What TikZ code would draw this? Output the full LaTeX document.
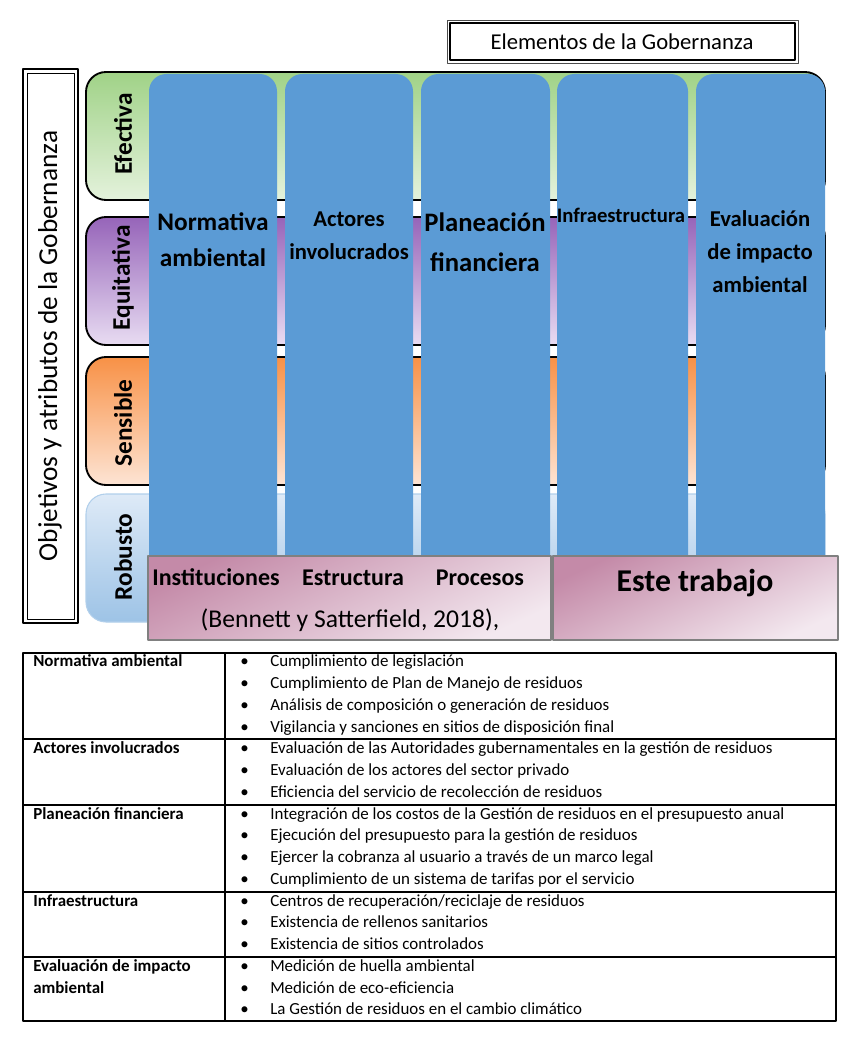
\documentclass[tikz,border=0pt]{standalone}
\usepackage{fontspec}
\setmainfont{Carlito}
\definecolor{colblue}{RGB}{91,155,213}
\definecolor{greendk}{RGB}{160,210,135}
\definecolor{greenlt}{RGB}{228,242,220}
\definecolor{purpledk}{RGB}{150,100,185}
\definecolor{purplelt}{RGB}{232,220,242}
\definecolor{orangedk}{RGB}{248,145,70}
\definecolor{orangelt}{RGB}{253,228,212}
\definecolor{bluelt}{RGB}{222,234,247}
\definecolor{bluedk}{RGB}{157,195,230}
\definecolor{pinkdk}{RGB}{196,138,168}
\definecolor{pinklt}{RGB}{243,232,239}

\begin{document}
\begin{tikzpicture}[x=0.75pt, y=-0.75pt, line join=round,
  band/.style={rounded corners=15pt, line width=1.4pt},
  colbox/.style={fill=colblue, rounded corners=13pt},
  pinkbox/.style={draw=black!50, line width=1.3pt, top color=pinkdk, bottom color=pinklt, shading angle=25},
  pinkword/.style={anchor=base, font=\bfseries\fontsize{18}{21}\selectfont},
  bandlabel/.style={rotate=90, font=\bfseries\fontsize{19}{22}\selectfont},
  item/.style={anchor=west, inner sep=0pt, text height=1.6ex, text depth=.4ex, font=\fontsize{12.7}{14}\selectfont},
  tlabel/.style={item, font=\bfseries\fontsize{12.7}{14}\selectfont}]
\useasboundingbox (0,0) rectangle (866,1048);

% titulo superior
\draw[line width=0.6pt, black!70] (447,20) rectangle (798,63);
\draw[line width=1.6pt] (450,23) rectangle (795,60);
\node[font=\fontsize{17}{20}\selectfont] (elementos) at (622,42) {Elementos de la Gobernanza};

% titulo lateral
\draw[line width=1.6pt] (23,69) rectangle (78,623);
\draw[line width=0.6pt] (27,73) rectangle (74,619);
\node[rotate=90, font=\fontsize{20.5}{24}\selectfont] (objetivos) at (50,346) {Objetivos y atributos de la Gobernanza};

% bandas de atributos
\draw[band, top color=greendk, bottom color=greenlt] (86,72) rectangle (825,200);
\draw[band, top color=purpledk, bottom color=purplelt] (86,217) rectangle (825,345);
\draw[band, top color=orangedk, bottom color=orangelt] (86,357) rectangle (825,485);
\draw[band, draw=bluedk!80, line width=0.8pt, top color=bluelt, bottom color=bluedk] (86,494) rectangle (825,622);
\node[bandlabel] (efectiva) at (123,134) {Efectiva};
\node[bandlabel] (equitativa) at (123,278) {Equitativa};
\node[bandlabel] (sensible) at (123,423) {Sensible};
\node[bandlabel] (robusto) at (123,557) {Robusto};

% columnas de elementos
\fill[colbox] (149,74) rectangle (277,590);
\fill[colbox] (285,74) rectangle (413,590);
\fill[colbox] (421,74) rectangle (550,590);
\fill[colbox] (557,74) rectangle (688,590);
\fill[colbox] (696,74) rectangle (825,590);
\node[align=center, font=\bfseries\fontsize{19}{27}\selectfont] (normativa) at (213,240) {Normativa\\ambiental};
\node[align=center, font=\bfseries\fontsize{17}{24.75}\selectfont] (actores) at (349,236) {Actores\\involucrados};
\node[align=center, font=\bfseries\fontsize{20}{30}\selectfont] (planeacion) at (485,242) {Planeación\\financiera};
\node[font=\bfseries\fontsize{15.5}{18}\selectfont] (infra) at (621,215) {Infraestructura};
\node[align=center, font=\bfseries\fontsize{17}{24.75}\selectfont] (evaluacion) at (760,252) {Evaluación\\de impacto\\ambiental};

% cajas inferiores
\draw[pinkbox] (148,556) rectangle (551,640);
\draw[pinkbox] (553,556) rectangle (838,640);
\node[pinkword] (instituciones) at (216,585) {Instituciones};
\node[pinkword] (estructura) at (353,585) {Estructura};
\node[pinkword] (procesos) at (480,585) {Procesos};
\node[font=\fontsize{19.2}{22}\selectfont] (bennett) at (350,620) {(Bennett y Satterfield, 2018),};
\node[font=\bfseries\fontsize{23.8}{27}\selectfont] (trabajo) at (695,583) {Este trabajo};

% tabla
\draw[line width=1pt] (23,653) rectangle (836,1021);
\draw[line width=0.8pt] (225,653) -- (225,1021);
\foreach \y in {739,805,892,957}
  \draw[line width=0.8pt] (23,\y) -- (836,\y);
\node[tlabel] (tnormativa) at (33,663) {Normativa ambiental};
\node[tlabel] (tactores) at (33,750) {Actores involucrados};
\node[tlabel] (tplaneacion) at (33,816) {Planeación financiera};
\node[tlabel] (tinfra) at (33,903) {Infraestructura};
\node[tlabel] (tevaluacion) at (33,968) {Evaluación de impacto};
\node[tlabel] (tambiental) at (33,990) {ambiental};
\foreach \t [count=\i from 0] in {
  Cumplimiento de legislación,
  Cumplimiento de Plan de Manejo de residuos,
  Análisis de composición o generación de residuos,
  Vigilancia y sanciones en sitios de disposición final,
  Evaluación de las Autoridades gubernamentales en la gestión de residuos,
  Evaluación de los actores del sector privado,
  Eficiencia del servicio de recolección de residuos,
  Integración de los costos de la Gestión de residuos en el presupuesto anual,
  Ejecución del presupuesto para la gestión de residuos,
  Ejercer la cobranza al usuario a través de un marco legal,
  Cumplimiento de un sistema de tarifas por el servicio,
  Centros de recuperación/reciclaje de residuos,
  Existencia de rellenos sanitarios,
  Existencia de sitios controlados,
  Medición de huella ambiental,
  Medición de eco-eficiencia,
  La Gestión de residuos en el cambio climático}
{
  \node[item] (b\i) at (240,663+21.75*\i) {•};
  \node[item] (t\i) at (270,663+21.75*\i) {\t};
}
\end{tikzpicture}
\end{document}
